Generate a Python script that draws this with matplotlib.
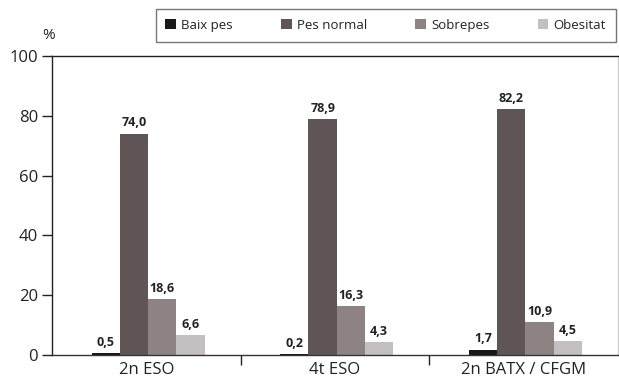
import numpy as np
import matplotlib.pyplot as plt

plt.rcParams['font.family'] = ['Open Sans', 'DejaVu Sans']

groups = ['2n ESO', '4t ESO', '2n BATX / CFGM']
series = ['Baix pes', 'Pes normal', 'Sobrepes', 'Obesitat']
baix = [0.5, 0.2, 1.7]
normal = [74.0, 78.9, 82.2]
sobre = [18.6, 16.3, 10.9]
obes = [6.6, 4.3, 4.5]
colors = ['#1a1718', '#5f5557', '#8d8385', '#c4bfc1']

fig = plt.figure(figsize=(6.19, 3.78), dpi=100)
ax = fig.add_axes([0.084, 0.061, 0.914, 0.791])

x = np.arange(len(groups))
w = 0.15
data = [baix, normal, sobre, obes]
for i, (vals, col, lab) in enumerate(zip(data, colors, series)):
    pos = x + (i - 1.5) * w + 0.01
    ax.bar(pos, vals, w, color=col, label=lab)
    for p, v in zip(pos, vals):
        ax.text(p, v + 1.5, f'{v:.1f}'.replace('.', ','), ha='center', va='bottom',
                fontsize=9, fontweight='bold', color='#222222')

ax.set_xlim(-0.5, 2.5)
ax.set_ylim(0, 100)
ax.set_yticks([0, 20, 40, 60, 80, 100])
ax.tick_params(axis='y', length=7, width=1, labelsize=12, colors='#222222', pad=3)
ax.set_xticks([0.5, 1.5])
ax.set_xticklabels(['', ''])
ax.tick_params(axis='x', length=7, width=1, colors='#222222')
for xi, g in zip(x, groups):
    ax.text(xi, -2.5, g, ha='center', va='top', fontsize=12, color='#222222')

ax.spines['left'].set_color('#222222')
ax.spines['top'].set_color('#222222')
ax.spines['bottom'].set_color('#333333')
ax.spines['right'].set_color('#cccccc')
for s in ax.spines.values():
    s.set_linewidth(1)

fig.text(0.068, 0.885, '%', fontsize=11, color='#222222', ha='left', va='bottom')

leg = fig.legend(loc='center', bbox_to_anchor=(0.623, 0.9325), ncol=4, frameon=True,
                 fancybox=False, edgecolor='#555555', fontsize=9.5, handlelength=0.8,
                 handleheight=0.8, handletextpad=0.4, columnspacing=3.65,
                 borderpad=0.75, labelcolor='#222222')
leg.get_frame().set_linewidth(1)

fig.savefig('out.png', dpi=100)
